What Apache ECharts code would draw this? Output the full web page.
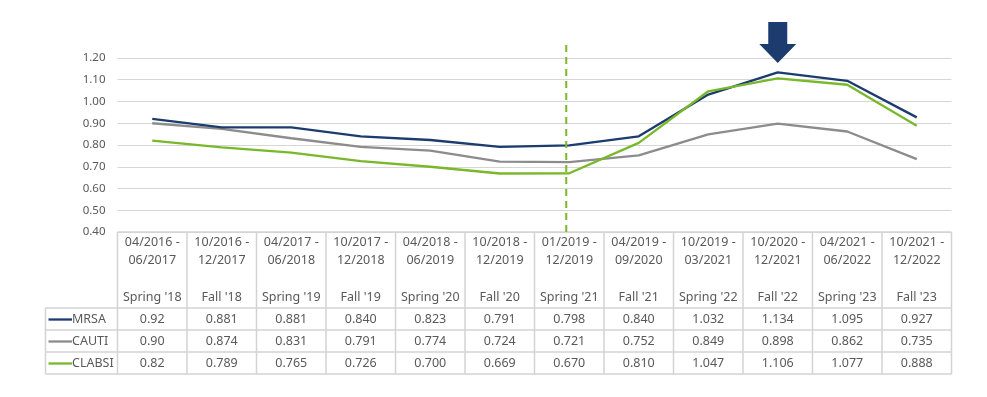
<!DOCTYPE html>
<html>
<head>
<meta charset="utf-8">
<script src="https://cdn.jsdelivr.net/npm/echarts@6/dist/echarts.min.js"></script>
<style>
  html, body { margin: 0; padding: 0; background: #fff; }
  #chart { width: 987px; height: 397px; }
</style>
</head>
<body>
<div id="chart"></div>
<script>
// column headers
var periodStart = ['04/2016 -', '10/2016 -', '04/2017 -', '10/2017 -', '04/2018 -', '10/2018 -', '01/2019 -', '04/2019 -', '10/2019 -', '10/2020 -', '04/2021 -', '10/2021 -']
var periodEnd = ['06/2017', '12/2017', '06/2018', '12/2018', '06/2019', '12/2019', '12/2019', '09/2020', '03/2021', '12/2021', '06/2022', '12/2022']
var seasons = ["Spring '18", "Fall '18", "Spring '19", "Fall '19", "Spring '20", "Fall '20", "Spring '21", "Fall '21", "Spring '22", "Fall '22", "Spring '23", "Fall '23"]

// series values (as printed in the table)
var mrsa = ['0.92', '0.881', '0.881', '0.840', '0.823', '0.791', '0.798', '0.840', '1.032', '1.134', '1.095', '0.927']
var cauti = ['0.90', '0.874', '0.831', '0.791', '0.774', '0.724', '0.721', '0.752', '0.849', '0.898', '0.862', '0.735']
var clabsi = ['0.82', '0.789', '0.765', '0.726', '0.700', '0.669', '0.670', '0.810', '1.047', '1.106', '1.077', '0.888']

var yTicks = [0.4, 0.5, 0.6, 0.7, 0.8, 0.9, 1.0, 1.1, 1.2]
var markerIndex = 6 // dashed line at Spring '21
var arrowIndex = 9 // arrow above Fall '22

var seriesDefs = [
  { name: 'MRSA', color: '#1c3b6e', data: mrsa },
  { name: 'CAUTI', color: '#8c8c8c', data: cauti },
  { name: 'CLABSI', color: '#78b82a', data: clabsi }
]

var textColor = '#595959'
var borderColor = '#d3d3d3'
var font = '"Noto Sans", sans-serif'

var chart = echarts.init(document.getElementById('chart'))

var series = seriesDefs.map(function(s) {
  return {
    name: s.name,
    type: 'line',
    data: s.data.map(Number),
    symbol: 'none',
    animation: false,
    z: s.name === 'CAUTI' ? 2 : 3,
    lineStyle: { color: s.color, width: 2.3 },
    itemStyle: { color: s.color }
  }
})

chart.setOption({
  backgroundColor: '#fff',
  textStyle: { fontFamily: font },
  grid: { left: 117.5, right: 35.5, top: 58, bottom: 165 },
  xAxis: {
    type: 'category',
    data: seasons,
    boundaryGap: true,
    axisLine: { show: false },
    axisTick: { show: false },
    axisLabel: {
      interval: 0,
      margin: 1,
      color: textColor,
      fontSize: 12.5,
      lineHeight: 18.5,
      formatter: function(v, i) {
        return periodStart[i] + '\n' + periodEnd[i] + '\n\n' + v
      }
    }
  },
  yAxis: {
    type: 'value',
    min: yTicks[0],
    max: yTicks[yTicks.length - 1],
    interval: 0.1,
    axisLine: { show: false },
    axisTick: { show: false },
    axisLabel: {
      color: textColor,
      fontSize: 11.5,
      margin: 12,
      formatter: function(v) { return v.toFixed(2) }
    },
    splitLine: { lineStyle: { color: '#d6d6d6', width: 1.2 } }
  },
  series: series
})

// data table under the axis, dashed divider and arrow
function buildTable() {
  var centers = seasons.map(function(s, i) {
    return chart.convertToPixel({ xAxisIndex: 0 }, i)
  })
  var half = (centers[1] - centers[0]) / 2
  var left = centers[0] - half
  var right = centers[centers.length - 1] + half
  var top = chart.convertToPixel({ yAxisIndex: 0 }, yTicks[0])
  var headH = 76
  var rowH = 22
  var keyLeft = 45.5
  var rowTop = top + headH
  var bottom = rowTop + rowH * seriesDefs.length
  var els = []
  var line = function(x1, y1, x2, y2) {
    els.push({
      type: 'line', silent: true,
      shape: { x1: x1, y1: y1, x2: x2, y2: y2 },
      style: { stroke: borderColor, lineWidth: 1.5 }
    })
  }
  line(left, top, right, top)
  for (var r = 0; r <= seriesDefs.length; r++) {
    line(keyLeft, rowTop + r * rowH, right, rowTop + r * rowH)
  }
  for (var c = 0; c <= seasons.length; c++) {
    line(left + c * half * 2, top, left + c * half * 2, bottom)
  }
  line(keyLeft, rowTop, keyLeft, bottom)

  seriesDefs.forEach(function(s, r) {
    var cy = rowTop + r * rowH + rowH / 2 + 0.5
    els.push({
      type: 'line', silent: true,
      shape: { x1: keyLeft + 3, y1: cy, x2: keyLeft + 26.5, y2: cy },
      style: { stroke: s.color, lineWidth: 2.3 }
    })
    els.push({
      type: 'text', silent: true, x: keyLeft + 26.5, y: cy,
      style: { text: s.name, fill: textColor, font: '12.5px ' + font, align: 'left', verticalAlign: 'middle' }
    })
    s.data.forEach(function(v, i) {
      els.push({
        type: 'text', silent: true, x: centers[i], y: cy,
        style: { text: v, fill: textColor, font: '12.5px ' + font, align: 'center', verticalAlign: 'middle' }
      })
    })
  })

  // dashed divider
  var dTop = chart.convertToPixel({ gridIndex: 0 }, [markerIndex, 1.26])
  var dBot = chart.convertToPixel({ gridIndex: 0 }, [markerIndex, yTicks[0]])
  els.push({
    type: 'line', silent: true, z: 10,
    shape: { x1: dTop[0] - 3, y1: dTop[1], x2: dBot[0] - 3, y2: dBot[1] },
    style: { stroke: '#7ab829', lineWidth: 2, lineDash: [7, 5] }
  })

  // down arrow
  var a = chart.convertToPixel({ gridIndex: 0 }, [arrowIndex, 1.2])
  var tipY = a[1] + 5
  els.push({
    type: 'polygon', silent: true, z: 10,
    shape: {
      points: [
        [a[0] - 9.5, tipY - 41], [a[0] + 9.5, tipY - 41], [a[0] + 9.5, tipY - 19],
        [a[0] + 18.5, tipY - 19], [a[0], tipY], [a[0] - 18.5, tipY - 19], [a[0] - 9.5, tipY - 19]
      ]
    },
    style: { fill: '#1c3b6e' }
  })
  chart.setOption({ graphic: { elements: els } })
}
buildTable()
</script>
</body>
</html>
